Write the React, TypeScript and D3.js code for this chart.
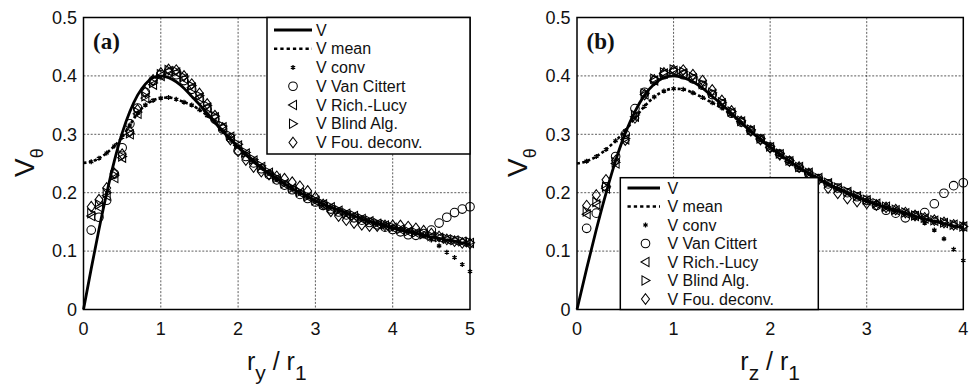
import React from 'react';
import * as d3 from 'd3';

// ---------- Panel (a): r_y / r_1 ----------
const rA = [0, 0.1, 0.2, 0.3, 0.4, 0.5, 0.6, 0.7, 0.8, 0.9, 1.0, 1.1, 1.2, 1.3, 1.4, 1.5, 1.6, 1.7, 1.8, 1.9, 2.0,
  2.1, 2.2, 2.3, 2.4, 2.5, 2.6, 2.7, 2.8, 2.9, 3.0, 3.1, 3.2, 3.3, 3.4, 3.5, 3.6, 3.7, 3.8, 3.9, 4.0,
  4.1, 4.2, 4.3, 4.4, 4.5, 4.6, 4.7, 4.8, 4.9, 5.0];
const vA = [0, 0.070, 0.137, 0.199, 0.255, 0.302, 0.339, 0.367, 0.386, 0.397, 0.400, 0.397, 0.390, 0.379, 0.365, 0.351,
  0.336, 0.320, 0.305, 0.291, 0.278, 0.265, 0.254, 0.243, 0.233, 0.224, 0.215, 0.207, 0.200, 0.193, 0.186,
  0.180, 0.175, 0.170, 0.165, 0.160, 0.155, 0.151, 0.147, 0.143, 0.140, 0.136, 0.133, 0.130, 0.127, 0.124,
  0.122, 0.119, 0.117, 0.114, 0.112];
const meanA = [0.251, 0.253, 0.259, 0.268, 0.280, 0.295, 0.316, 0.336, 0.350, 0.358, 0.362, 0.363, 0.360, 0.355, 0.350,
  0.342, 0.332, 0.321, 0.306, 0.293, 0.280, 0.267, 0.255, 0.244, 0.234, 0.224, 0.215, 0.207, 0.200, 0.193, 0.186,
  0.180, 0.175, 0.170, 0.165, 0.160, 0.156, 0.151, 0.147, 0.144, 0.140, 0.137, 0.134, 0.131, 0.128, 0.125,
  0.122, 0.120, 0.117, 0.115, 0.113];
const convA = [0.253, 0.259, 0.268, 0.280, 0.295, 0.316, 0.336, 0.350, 0.358, 0.362, 0.363, 0.360, 0.355, 0.350,
  0.342, 0.332, 0.321, 0.306, 0.293, 0.280, 0.267, 0.255, 0.244, 0.234, 0.224, 0.215, 0.207, 0.200, 0.193, 0.186,
  0.180, 0.175, 0.170, 0.165, 0.160, 0.156, 0.151, 0.147, 0.144, 0.140, 0.137, 0.134, 0.131, 0.127, 0.119,
  0.109, 0.098, 0.089, 0.077, 0.065];
const vcA = [0.136, 0.158, 0.187, 0.232, 0.277, 0.318, 0.345, 0.372, 0.392, 0.402, 0.405, 0.402, 0.392, 0.377, 0.360,
  0.343, 0.326, 0.309, 0.294, 0.272, 0.262, 0.251, 0.241, 0.231, 0.222, 0.213, 0.205, 0.197, 0.190, 0.184,
  0.178, 0.172, 0.167, 0.162, 0.157, 0.153, 0.149, 0.145, 0.141, 0.137, 0.133, 0.128, 0.127, 0.130, 0.136,
  0.148, 0.158, 0.166, 0.172, 0.176];
const rlA = [0.160, 0.175, 0.195, 0.225, 0.260, 0.300, 0.335, 0.362, 0.385, 0.400, 0.408, 0.406, 0.395, 0.380, 0.363,
  0.346, 0.329, 0.312, 0.296, 0.281, 0.267, 0.255, 0.244, 0.234, 0.224, 0.215, 0.207, 0.200, 0.193, 0.186,
  0.180, 0.175, 0.169, 0.164, 0.160, 0.155, 0.151, 0.147, 0.144, 0.140, 0.137, 0.133, 0.131, 0.128, 0.125,
  0.123, 0.120, 0.118, 0.116, 0.114];
const blA = [0.165, 0.180, 0.200, 0.230, 0.262, 0.302, 0.338, 0.365, 0.388, 0.403, 0.410, 0.408, 0.398, 0.383, 0.366,
  0.349, 0.331, 0.314, 0.298, 0.283, 0.269, 0.257, 0.246, 0.235, 0.225, 0.216, 0.208, 0.201, 0.194, 0.187,
  0.181, 0.176, 0.170, 0.165, 0.161, 0.156, 0.152, 0.148, 0.145, 0.141, 0.138, 0.134, 0.132, 0.129, 0.126,
  0.124, 0.121, 0.119, 0.117, 0.115];
const fdA = [0.176, 0.188, 0.208, 0.233, 0.266, 0.305, 0.342, 0.372, 0.393, 0.405, 0.411, 0.410, 0.400, 0.386, 0.370,
  0.352, 0.332, 0.311, 0.291, 0.271, 0.256, 0.244, 0.236, 0.231, 0.228, 0.224, 0.218, 0.211, 0.203, 0.192,
  0.180, 0.168, 0.160, 0.153, 0.148, 0.145, 0.143, 0.143, 0.144, 0.144, 0.144, 0.142, 0.139, 0.135, 0.130,
  0.125, 0.120, 0.117, 0.114, 0.113];

// ---------- Panel (b): r_z / r_1 ----------
const rB = [0, 0.1, 0.2, 0.3, 0.4, 0.5, 0.6, 0.7, 0.8, 0.9, 1.0, 1.1, 1.2, 1.3, 1.4, 1.5, 1.6, 1.7, 1.8, 1.9, 2.0,
  2.1, 2.2, 2.3, 2.4, 2.5, 2.6, 2.7, 2.8, 2.9, 3.0, 3.1, 3.2, 3.3, 3.4, 3.5, 3.6, 3.7, 3.8, 3.9, 4.0];
const vB = [0, 0.070, 0.137, 0.199, 0.255, 0.302, 0.339, 0.367, 0.386, 0.397, 0.400, 0.397, 0.390, 0.379, 0.365, 0.351,
  0.336, 0.320, 0.305, 0.291, 0.278, 0.265, 0.254, 0.243, 0.233, 0.224, 0.215, 0.207, 0.200, 0.193, 0.186,
  0.180, 0.175, 0.170, 0.165, 0.160, 0.155, 0.151, 0.147, 0.143, 0.140];
const meanB = [0.250, 0.254, 0.262, 0.274, 0.289, 0.306, 0.328, 0.348, 0.364, 0.374, 0.378, 0.377, 0.371, 0.363, 0.354,
  0.345, 0.333, 0.320, 0.306, 0.292, 0.279, 0.266, 0.254, 0.243, 0.233, 0.224, 0.215, 0.207, 0.200, 0.193, 0.187,
  0.181, 0.175, 0.170, 0.165, 0.160, 0.156, 0.152, 0.148, 0.144, 0.141];
const convB = [0.254, 0.262, 0.274, 0.289, 0.306, 0.328, 0.348, 0.364, 0.374, 0.378, 0.377, 0.371, 0.363, 0.354,
  0.345, 0.333, 0.320, 0.306, 0.292, 0.279, 0.266, 0.254, 0.243, 0.233, 0.224, 0.215, 0.207, 0.200, 0.193, 0.187,
  0.181, 0.175, 0.170, 0.165, 0.158, 0.148, 0.136, 0.121, 0.103, 0.084];
const vcB = [0.139, 0.165, 0.210, 0.262, 0.300, 0.344, 0.372, 0.392, 0.402, 0.406, 0.402, 0.395, 0.384, 0.368, 0.352,
  0.336, 0.321, 0.306, 0.292, 0.278, 0.266, 0.254, 0.243, 0.233, 0.224, 0.215, 0.208, 0.200, 0.193, 0.187,
  0.178, 0.170, 0.165, 0.157, 0.161, 0.166, 0.181, 0.199, 0.212, 0.217];
const rlB = [0.163, 0.180, 0.207, 0.250, 0.291, 0.330, 0.368, 0.392, 0.404, 0.409, 0.404, 0.396, 0.384, 0.369, 0.353,
  0.337, 0.322, 0.307, 0.292, 0.278, 0.266, 0.254, 0.244, 0.234, 0.225, 0.216, 0.208, 0.201, 0.194, 0.187,
  0.181, 0.176, 0.170, 0.165, 0.160, 0.156, 0.152, 0.148, 0.145, 0.142];
const blB = [0.168, 0.184, 0.210, 0.252, 0.293, 0.333, 0.370, 0.395, 0.406, 0.411, 0.407, 0.398, 0.386, 0.371, 0.355,
  0.339, 0.323, 0.308, 0.293, 0.279, 0.267, 0.255, 0.244, 0.234, 0.225, 0.217, 0.209, 0.202, 0.195, 0.188,
  0.182, 0.176, 0.171, 0.166, 0.161, 0.157, 0.153, 0.149, 0.145, 0.142];
const fdB = [0.178, 0.196, 0.222, 0.255, 0.290, 0.328, 0.368, 0.393, 0.405, 0.410, 0.410, 0.402, 0.392, 0.376, 0.358,
  0.340, 0.322, 0.306, 0.291, 0.277, 0.265, 0.254, 0.244, 0.233, 0.222, 0.208, 0.199, 0.190, 0.185, 0.182,
  0.179, 0.175, 0.171, 0.166, 0.161, 0.157, 0.153, 0.149, 0.145, 0.142];

const legendLabels = ['V', 'V mean', 'V conv', 'V Van Cittert', 'V Rich.-Lucy', 'V Blind Alg.', 'V Fou. deconv.'];
const legendKinds = ['line', 'dash', 'star', 'circle', 'tl', 'tr', 'diamond'];
const xTicksA = [0, 1, 2, 3, 4, 5];
const xTicksB = [0, 1, 2, 3, 4];
const yTicks = [0, 0.1, 0.2, 0.3, 0.4, 0.5];

const FONT = '"Liberation Sans", Arial, Helvetica, sans-serif';

function Marker({ kind, x, y }: { kind: string; x: number; y: number }) {
  const sw = 1.05;
  if (kind === 'circle') return <circle cx={x} cy={y} r={4.3} fill="none" stroke="#000" strokeWidth={sw} />;
  if (kind === 'tl')
    return <path d={`M${x - 4.5},${y}L${x + 3.5},${y - 4.6}L${x + 3.5},${y + 4.6}Z`} fill="none" stroke="#000" strokeWidth={sw} />;
  if (kind === 'tr')
    return <path d={`M${x + 4.5},${y}L${x - 3.5},${y - 4.6}L${x - 3.5},${y + 4.6}Z`} fill="none" stroke="#000" strokeWidth={sw} />;
  if (kind === 'diamond')
    return <path d={`M${x},${y - 5.3}L${x + 4},${y}L${x},${y + 5.3}L${x - 4},${y}Z`} fill="none" stroke="#000" strokeWidth={sw} />;
  // asterisk
  const L = 2.5;
  const a = [90, 30, 150].map((deg) => (deg * Math.PI) / 180);
  return (
    <path
      d={a.map((t) => `M${x - L * Math.cos(t)},${y - L * Math.sin(t)}L${x + L * Math.cos(t)},${y + L * Math.sin(t)}`).join('')}
      stroke="#000"
      strokeWidth={1.3}
    />
  );
}

type PanelProps = {
  x0: number; x1: number; xmax: number; xTicks: number[];
  r: number[]; v: number[]; mean: number[]; conv: number[]; vc: number[]; rl: number[]; bl: number[]; fd: number[];
  tag: string; sub: string;
  legend: { left: number; top: number; right: number; bottom: number; lineX0: number; lineX1: number; symX: number; textX: number; row0: number; step: number };
  ylabX: number;
};

function Panel(p: PanelProps) {
  const top = 17.5, bottom = 309.5;
  const x = d3.scaleLinear().domain([0, p.xmax]).range([p.x0, p.x1]);
  const y = d3.scaleLinear().domain([0, 0.5]).range([bottom, top]);
  const line = d3.line<[number, number]>().x((d) => x(d[0])).y((d) => y(d[1])).curve(d3.curveMonotoneX);
  const rm = p.r.slice(1);
  const pairs = (vals: number[], rr: number[]) => rr.map((ri, i) => [ri, vals[i]] as [number, number]);
  const markerSeries: [string, number[]][] = [
    ['circle', p.vc], ['tl', p.rl], ['tr', p.bl], ['diamond', p.fd], ['star', p.conv],
  ];
  const lg = p.legend;
  const midX = (p.x0 + p.x1) / 2;
  return (
    <g>
      {/* grid */}
      {p.xTicks.filter((t) => t > 0 && t < p.xmax).map((t) => (
        <line key={'gx' + t} x1={x(t)} x2={x(t)} y1={top} y2={bottom} stroke="#333" strokeWidth={0.8} strokeDasharray="2 1.6" />
      ))}
      {yTicks.filter((t) => t > 0 && t < 0.5).map((t) => (
        <line key={'gy' + t} x1={p.x0} x2={p.x1} y1={y(t)} y2={y(t)} stroke="#333" strokeWidth={0.8} strokeDasharray="2 1.6" />
      ))}
      {/* data */}
      <path d={line(pairs(p.v, p.r)) || ''} fill="none" stroke="#000" strokeWidth={2.8} />
      <path d={line(pairs(p.mean, p.r)) || ''} fill="none" stroke="#000" strokeWidth={2.6} strokeDasharray="3 2.4" />
      {markerSeries.map(([kind, vals]) =>
        vals.map((val, i) => <Marker key={kind + i} kind={kind} x={x(rm[i])} y={y(val)} />)
      )}
      {/* frame */}
      <rect x={p.x0} y={top} width={p.x1 - p.x0} height={bottom - top} fill="none" stroke="#000" strokeWidth={1.5} />
      {/* tick labels */}
      {p.xTicks.map((t) => (
        <text key={'xt' + t} x={x(t)} y={335} textAnchor="middle" fontFamily={FONT} fontSize={18} fill="#111">{t}</text>
      ))}
      {yTicks.map((t) => (
        <text key={'yt' + t} x={p.x0 - 6.5} y={y(t) + 6.3} textAnchor="end" fontFamily={FONT} fontSize={18} fill="#111">{t === 0 ? '0' : t.toFixed(1)}</text>
      ))}
      {/* axis titles */}
      <text x={midX} y={370} textAnchor="middle" fontFamily={FONT} fontSize={25} fill="#111">
        r<tspan fontSize={21} dy={10}>{p.sub}</tspan><tspan dy={-10}> / r</tspan><tspan fontSize={21} dy={10}>1</tspan>
      </text>
      <text transform={`translate(${p.ylabX},177) rotate(-90)`} fontFamily={FONT} fontSize={28} fill="#111">
        V<tspan fontSize={18} dy={9}>θ</tspan>
      </text>
      {/* panel tag */}
      <text x={p.x0 + 9.5} y={48.5} fontFamily='"Liberation Serif", "Times New Roman", serif' fontWeight="bold" fontSize={23} fill="#111">{p.tag}</text>
      {/* legend */}
      <rect x={lg.left} y={lg.top} width={lg.right - lg.left} height={lg.bottom - lg.top} fill="#fff" stroke="#000" strokeWidth={1.5} />
      {legendLabels.map((lab, i) => {
        const cy = lg.row0 + i * lg.step;
        const kind = legendKinds[i];
        return (
          <g key={lab}>
            {kind === 'line' && <line x1={lg.lineX0} x2={lg.lineX1} y1={cy} y2={cy} stroke="#000" strokeWidth={2.8} />}
            {kind === 'dash' && <line x1={lg.lineX0} x2={lg.lineX1} y1={cy} y2={cy} stroke="#000" strokeWidth={2.6} strokeDasharray="3.3 3" />}
            {kind !== 'line' && kind !== 'dash' && <Marker kind={kind} x={lg.symX} y={cy} />}
            <text x={lg.textX} y={cy + 5.7} fontFamily={FONT} fontSize={16} fill="#111">{lab}</text>
          </g>
        );
      })}
    </g>
  );
}

export default function App() {
  return (
    <div style={{ position: 'absolute', left: 0, top: 0 }}>
      <svg width={972} height={387} viewBox="0 0 972 387" style={{ display: 'block', background: '#fff' }}>
        <rect x={0} y={0} width={972} height={387} fill="#fff" />
        <Panel
          x0={83.5} x1={470} xmax={5} xTicks={xTicksA}
          r={rA} v={vA} mean={meanA} conv={convA} vc={vcA} rl={rlA} bl={blA} fd={fdA}
          tag="(a)" sub="y" ylabX={33.5}
          legend={{ left: 267, top: 17.5, right: 470, bottom: 154, lineX0: 274, lineX1: 312, symX: 293, textX: 316, row0: 30, step: 18.75 }}
        />
        <Panel
          x0={577} x1={963.3} xmax={4} xTicks={xTicksB}
          r={rB} v={vB} mean={meanB} conv={convB} vc={vcB} rl={rlB} bl={blB} fd={fdB}
          tag="(b)" sub="z" ylabX={526.5}
          legend={{ left: 620.3, top: 177.7, right: 818.3, bottom: 309.5, lineX0: 627.5, lineX1: 660, symX: 645.5, textX: 667.5, row0: 188, step: 18.5 }}
        />
      </svg>
    </div>
  );
}
